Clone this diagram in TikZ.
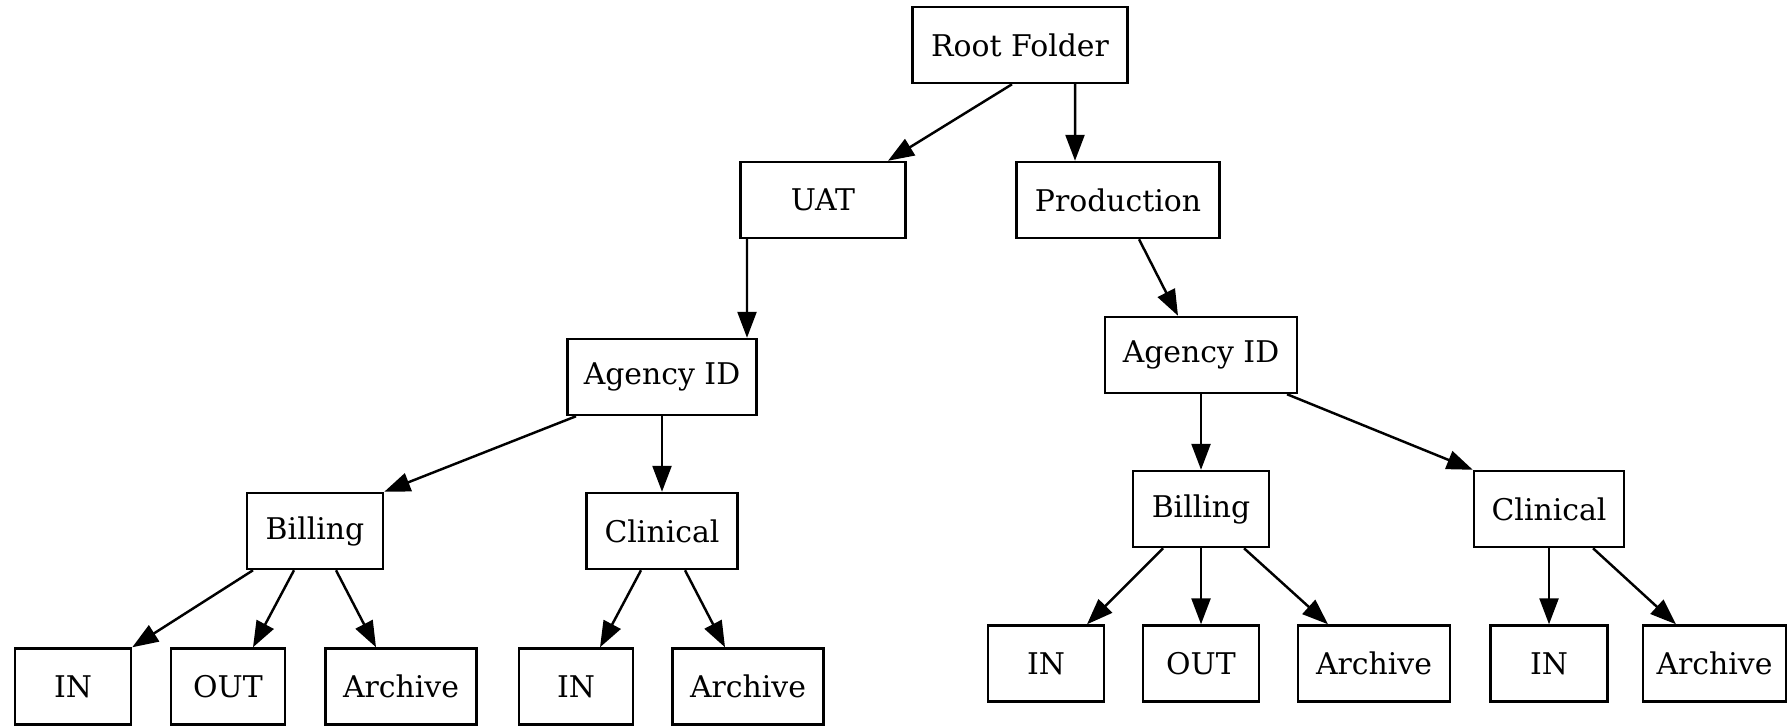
\documentclass[tikz,border=0pt]{standalone}
\usepackage{fontspec}
\setmainfont{DejaVu Serif}
\usepackage{tikz}
\usetikzlibrary{arrows.meta,positioning,calc}

\begin{document}
\begin{tikzpicture}[
  folder/.style={draw, line width=0.7pt, minimum height=7.6mm, inner sep=1pt, font=\fontsize{8.5}{10}\selectfont},
  link/.style={line width=0.7pt, -{Triangle[length=2.6mm,width=1.9mm]}}
]
\useasboundingbox (0,0) rectangle (17.88,7.26);

\node[folder, minimum width=21.5mm] (root) at (10.20,6.81) {Root Folder};
\node[folder, minimum width=16.5mm] (uat) at (8.23,5.26) {UAT};
\node[folder, minimum width=20.3mm] (prod) at (11.18,5.26) {Production};

\node[folder, minimum width=18.9mm] (agl) at (6.62,3.49) {Agency ID};
\node[folder, minimum width=13.6mm] (bil) at (3.15,1.95) {Billing};
\node[folder, minimum width=15.1mm] (cll) at (6.62,1.95) {Clinical};
\node[folder, minimum width=11.6mm] (inla) at (0.73,0.395) {IN};
\node[folder, minimum width=11.4mm] (outl) at (2.28,0.395) {OUT};
\node[folder, minimum width=15.1mm] (arla) at (4.01,0.395) {Archive};
\node[folder, minimum width=11.4mm] (inlb) at (5.76,0.395) {IN};
\node[folder, minimum width=15.1mm] (arlb) at (7.48,0.395) {Archive};

\node[folder, minimum width=19.2mm] (agr) at (12.01,3.71) {Agency ID};
\node[folder, minimum width=13.6mm] (bir) at (12.01,2.17) {Billing};
\node[folder, minimum width=15.0mm] (clr) at (15.49,2.17) {Clinical};
\node[folder, minimum width=11.6mm] (inra) at (10.46,0.625) {IN};
\node[folder, minimum width=11.6mm] (outr) at (12.01,0.625) {OUT};
\node[folder, minimum width=15.2mm] (arra) at (13.74,0.625) {Archive};
\node[folder, minimum width=11.7mm] (inrb) at (15.49,0.625) {IN};
\node[folder, minimum width=14.3mm] (arrb) at (17.145,0.625) {Archive};

\draw[link] ([xshift=-0.8mm]root.south) -- ([xshift=6.5mm]uat.north);
\draw[link] ([xshift=5.5mm]root.south) -- ([xshift=-4.3mm]prod.north);
\draw[link] ([xshift=-7.6mm]uat.south) -- ([xshift=8.5mm]agl.north);
\draw[link] ([xshift=2.1mm]prod.south) -- ([xshift=-2.3mm]agr.north);

\draw[link] ([xshift=-8.6mm]agl.south) -- (bil.north east);
\draw[link] (agl.south) -- (cll.north);
\draw[link] ([xshift=-6.2mm]bil.south) -- (inla.north east);
\draw[link] ([xshift=-2.1mm]bil.south) -- ([xshift=2.5mm]outl.north);
\draw[link] ([xshift=2.1mm]bil.south) -- ([xshift=-2.5mm]arla.north);
\draw[link] ([xshift=-2.1mm]cll.south) -- ([xshift=2.4mm]inlb.north);
\draw[link] ([xshift=2.3mm]cll.south) -- ([xshift=-2.3mm]arlb.north);

\draw[link] (agr.south) -- (bir.north);
\draw[link] ([xshift=8.6mm]agr.south) -- (clr.north west);
\draw[link] ([xshift=-3.8mm]bir.south) -- ([xshift=4.1mm]inra.north);
\draw[link] (bir.south) -- (outr.north);
\draw[link] ([xshift=4.3mm]bir.south) -- ([xshift=-4.6mm]arra.north);
\draw[link] (clr.south) -- (inrb.north);
\draw[link] ([xshift=4.4mm]clr.south) -- ([xshift=-3.85mm]arrb.north);
\end{tikzpicture}
\end{document}
